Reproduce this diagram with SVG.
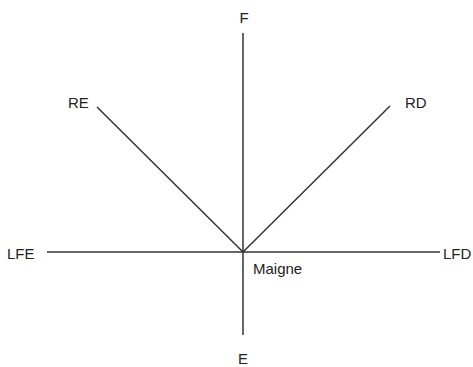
<svg xmlns="http://www.w3.org/2000/svg" width="473" height="367" viewBox="0 0 473 367">
<style>
.ax{stroke:#333;stroke-width:1.5;fill:none}
text{font-family:"Liberation Sans",Arial,sans-serif;font-size:15px;fill:#222}
</style>
<rect width="473" height="367" fill="#fff"/>
<g id="connectors">
<line class="ax" x1="243" y1="33" x2="243" y2="335"/>
<line class="ax" x1="47" y1="252" x2="440" y2="252"/>
<line class="ax" x1="97" y1="107" x2="243" y2="252"/>
<line class="ax" x1="390" y1="106" x2="243" y2="252"/>
</g>
<g id="F"><text x="244" y="23" text-anchor="middle">F</text></g>
<g id="E"><text x="243" y="364" text-anchor="middle">E</text></g>
<g id="RE"><text x="68" y="108">RE</text></g>
<g id="RD"><text x="405" y="108">RD</text></g>
<g id="LFE"><text x="7" y="259">LFE</text></g>
<g id="LFD"><text x="443" y="259">LFD</text></g>
<g id="Maigne"><text x="253" y="274">Maigne</text></g>
</svg>
